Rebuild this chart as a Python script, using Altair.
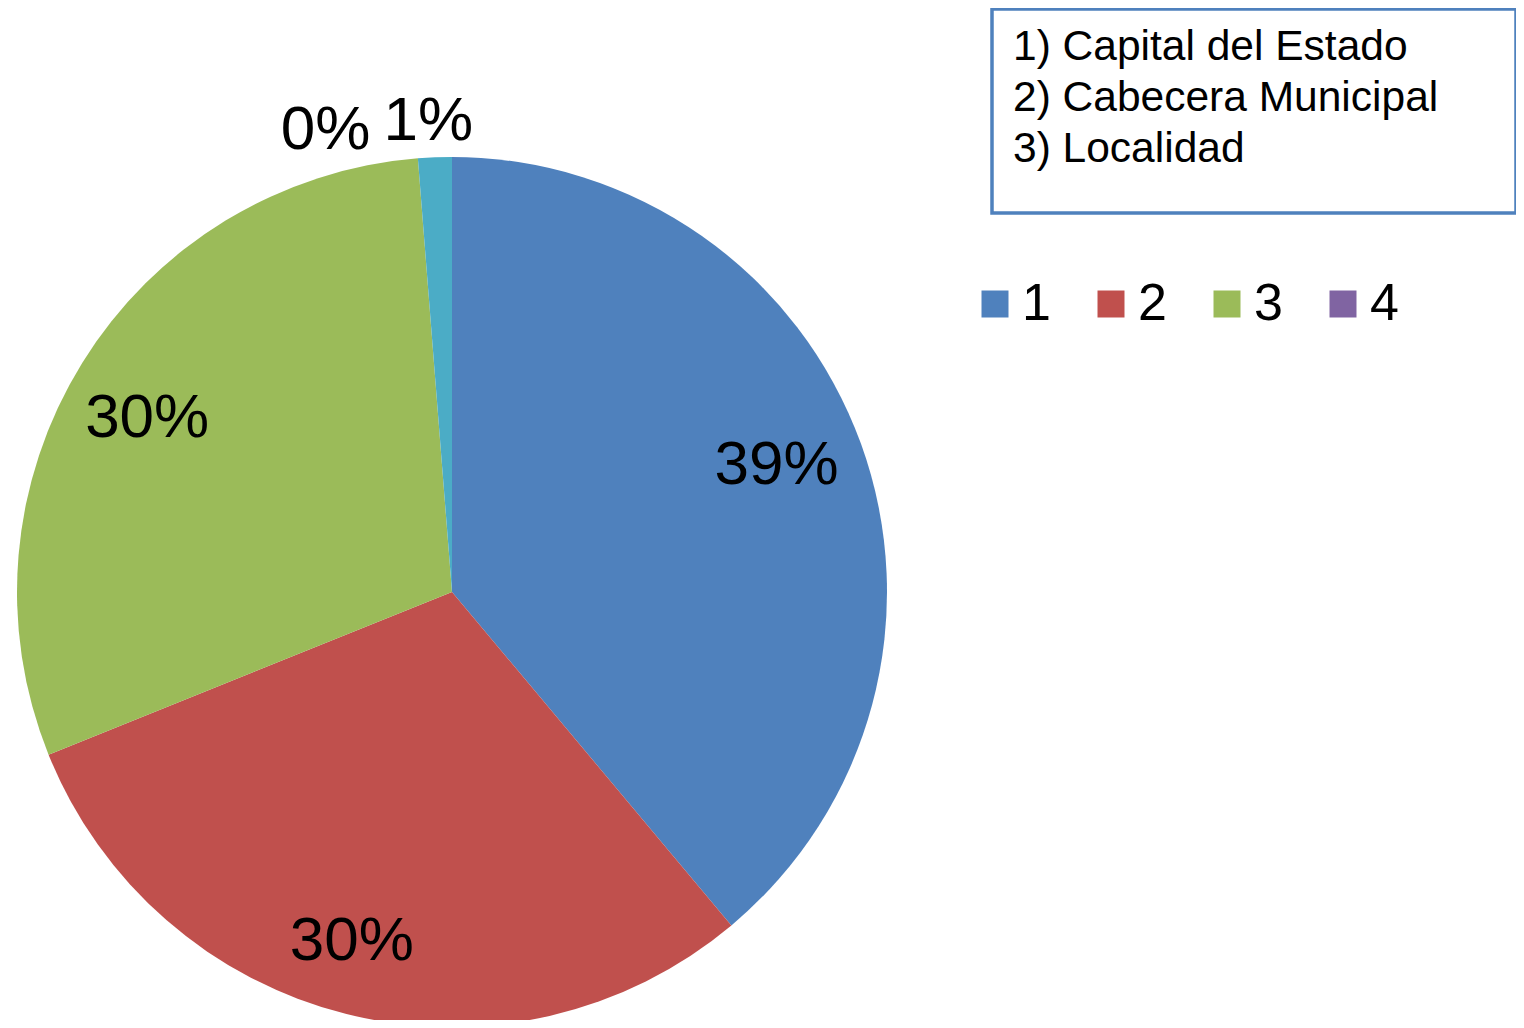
import altair as alt
import pandas as pd

categories = ["1", "2", "3", "4", "5"]
values = [38.9, 30.0, 29.85, 0.0, 1.25]
pct_labels = ["39%", "30%", "30%", "0%", "1%"]
colors = ["#4f81bd", "#c0504d", "#9bbb59", "#8064a2", "#4bacc6"]
legend_values = ["1", "2", "3", "4"]
box_lines = ["1) Capital del Estado", "2) Cabecera Municipal", "3) Localidad"]

df = pd.DataFrame({
    "cat": categories,
    "value": values,
    "label": pct_labels,
    "order": list(range(len(categories))),
})

FONT = "Liberation Sans"
CX, CY, R = 444, 584, 435

color = alt.Color(
    "cat:N",
    scale=alt.Scale(domain=categories, range=colors),
    legend=alt.Legend(
        values=legend_values, title=None, orient="none", direction="horizontal",
        legendX=961, legendY=270, symbolType="square", symbolSize=729,
        symbolStrokeWidth=0, labelFontSize=52, labelFont=FONT, labelColor="black",
        labelOffset=1, columnPadding=34, padding=0,
    ),
)

theta = alt.Theta("value:Q", stack=True)
order = alt.Order("order:Q")

base = alt.Chart(df)

pie = base.mark_arc(radius=R, stroke=None).encode(
    theta=theta, color=color, order=order,
    x=alt.value(CX), y=alt.value(CY),
)

# (slice index, radius, dx, dy)
label_specs = [(0, 355, -9, -6), (1, 355, -14, 5), (2, 355, -3, 13),
               (3, 478, -89, 15), (4, 478, -5, 7)]

label_layers = []
for idx, rad, ddx, ddy in label_specs:
    label_layers.append(
        base.mark_text(radius=rad, font=FONT, fontSize=62, color="black",
                       align="center", baseline="middle", dx=ddx, dy=ddy).encode(
            theta=theta, order=order, text="label:N",
            x=alt.value(CX), y=alt.value(CY),
            opacity=alt.condition(f"datum.order == {idx}", alt.value(1), alt.value(0)),
        )
    )

box_df = pd.DataFrame({"k": [0]})
box = alt.Chart(box_df).mark_rect(fill="white", stroke="#4f81bd", strokeWidth=3.5).encode(
    x=alt.value(984), x2=alt.value(1508), y=alt.value(1), y2=alt.value(205),
)

text_layers = []
for i, line in enumerate(box_lines):
    text_layers.append(
        alt.Chart(box_df).mark_text(font=FONT, fontSize=42.5, color="black",
                                    align="left", baseline="alphabetic", text=line).encode(
            x=alt.value(1005), y=alt.value(52 + 51 * i),
        )
    )

chart = alt.layer(pie, *label_layers, box, *text_layers).properties(
    width=1508, height=1012, padding=0,
    autosize=alt.AutoSizeParams(type="none"),
).configure_view(stroke=None)

chart.save("out.html", embed_options={"renderer": "svg", "actions": False})
